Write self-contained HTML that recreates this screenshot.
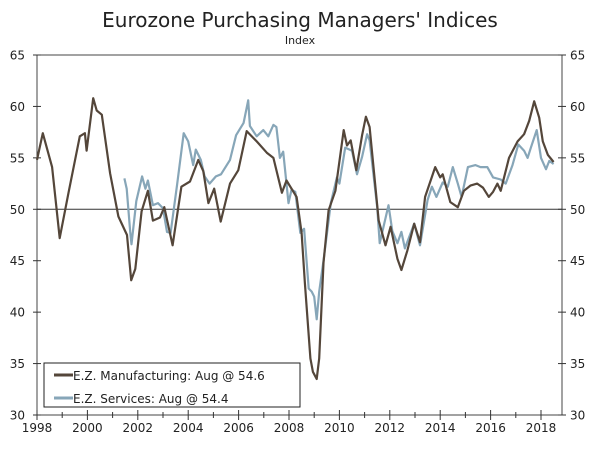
<!DOCTYPE html>
<html><head><meta charset="utf-8"><style>
body{margin:0;background:#fff;}
svg text{font-family:"DejaVu Sans","Liberation Sans",sans-serif;fill:#222;}
</style></head><body>
<svg id="c" width="600" height="449">
<text x="300" y="27" font-size="20" text-anchor="middle">Eurozone Purchasing Managers' Indices</text>
<text x="300" y="44" font-size="11" text-anchor="middle">Index</text>
<g id="axes"></g>
<g id="series"></g>
<g>
<rect x="44" y="363" width="256" height="44" fill="#fff" stroke="#222" stroke-width="1"/>
<line x1="54" y1="375" x2="73" y2="375" stroke="#54463a" stroke-width="3"/>
<text x="73" y="380" font-size="12">E.Z. Manufacturing: Aug @ 54.6</text>
<line x1="54" y1="398" x2="73" y2="398" stroke="#87a6b8" stroke-width="3"/>
<text x="73" y="403" font-size="12">E.Z. Services: Aug @ 54.4</text>
</g>
</svg>
<script>
const yTicks=[30,35,40,45,50,55,60,65];
const xTickYears=[1998,2000,2002,2004,2006,2008,2010,2012,2014,2016,2018];
const mfgDates=[1998.0,1998.23,1998.6,1998.9,1999.25,1999.7,1999.9,1999.97,2000.23,2000.37,2000.57,2000.9,2001.23,2001.57,2001.74,2001.9,2002.15,2002.4,2002.6,2002.88,2003.05,2003.38,2003.73,2004.07,2004.4,2004.6,2004.8,2005.03,2005.29,2005.66,2005.99,2006.32,2006.72,2007.12,2007.38,2007.72,2007.9,2008.3,2008.5,2008.63,2008.85,2008.95,2009.1,2009.2,2009.37,2009.57,2009.84,2010.17,2010.3,2010.45,2010.67,2010.9,2011.05,2011.2,2011.56,2011.83,2012.03,2012.3,2012.46,2012.7,2012.97,2013.2,2013.4,2013.8,2014.0,2014.1,2014.4,2014.7,2014.94,2015.2,2015.47,2015.7,2015.93,2016.1,2016.27,2016.4,2016.73,2017.07,2017.33,2017.53,2017.73,2017.93,2018.07,2018.27,2018.5];
const mfgVals=[54.8,57.4,54.1,47.2,51.6,57.1,57.4,55.7,60.8,59.6,59.2,53.5,49.3,47.5,43.1,44.2,49.8,51.8,48.9,49.2,50.2,46.5,52.2,52.7,54.8,53.7,50.6,52.0,48.8,52.5,53.8,57.6,56.6,55.5,55.0,51.6,52.8,51.2,47.7,42.8,35.5,34.2,33.5,35.5,44.8,49.9,51.8,57.7,56.2,56.7,53.8,57.2,59.0,58.0,48.9,46.5,48.3,45.2,44.1,46.0,48.6,46.8,51.2,54.1,53.1,53.4,50.7,50.2,51.8,52.3,52.5,52.1,51.2,51.7,52.5,51.8,55.0,56.6,57.3,58.6,60.5,58.9,56.6,55.3,54.6];
const svcDates=[2001.47,2001.56,2001.7,2001.75,2001.94,2002.17,2002.3,2002.4,2002.6,2002.8,2003.0,2003.16,2003.3,2003.56,2003.82,2004.0,2004.2,2004.3,2004.5,2004.65,2004.85,2005.1,2005.3,2005.66,2005.9,2006.2,2006.38,2006.45,2006.72,2006.98,2007.18,2007.38,2007.5,2007.64,2007.77,2007.98,2008.1,2008.25,2008.45,2008.6,2008.78,2008.9,2009.0,2009.1,2009.2,2009.37,2009.66,2009.9,2010.0,2010.23,2010.5,2010.7,2010.9,2011.1,2011.2,2011.5,2011.6,2011.95,2012.1,2012.3,2012.46,2012.6,2012.97,2013.2,2013.5,2013.67,2013.85,2014.1,2014.3,2014.5,2014.7,2014.85,2015.1,2015.4,2015.6,2015.87,2016.1,2016.4,2016.6,2016.87,2017.1,2017.33,2017.47,2017.6,2017.83,2018.0,2018.2,2018.33,2018.5];
const svcVals=[53.0,52.0,47.8,46.6,50.8,53.2,52.0,52.8,50.4,50.6,50.1,47.8,47.7,52.4,57.4,56.6,54.3,55.8,54.8,53.2,52.5,53.2,53.4,54.8,57.2,58.4,60.6,58.1,57.1,57.7,57.1,58.2,58.0,55.0,55.6,50.6,51.9,51.7,47.7,48.1,42.3,42.0,41.5,39.3,42.0,45.0,50.6,53.1,52.5,56.0,55.7,53.4,55.1,57.3,56.7,50.2,46.7,50.4,47.9,46.7,47.8,46.2,48.6,46.5,50.9,52.2,51.2,52.6,52.2,54.1,52.5,51.2,54.1,54.3,54.1,54.1,53.1,52.9,52.5,54.3,56.3,55.7,55.0,56.0,57.7,55.0,53.9,54.7,54.4];
const L=37,R=562,T=55,B=415;
const xs=d=>L+(d-1998)*25.2;
const ys=v=>T+(65-v)*(B-T)/35;
const NS='http://www.w3.org/2000/svg';
function mk(tag,at,parent){const e=document.createElementNS(NS,tag);for(const k in at)e.setAttribute(k,at[k]);parent.appendChild(e);return e;}
const ax=document.getElementById('axes');
let fr=mk('rect',{x:L,y:T,width:R-L,height:B-T,fill:'none',stroke:'#444','stroke-width':1},ax);


let ref=mk('line',{x1:L,x2:R,y1:ys(50),y2:ys(50),stroke:'#333','stroke-width':1},ax);


yTicks.forEach(v=>{
  mk('line',{x1:L-4,x2:L+4,y1:ys(v),y2:ys(v),stroke:'#333'},ax);
  mk('line',{x1:R-4,x2:R+4,y1:ys(v),y2:ys(v),stroke:'#333'},ax);
  let t=mk('text',{x:L-12,y:ys(v)+4.5,'font-size':12,'text-anchor':'end'},ax);t.textContent=v;
  
  
  let t2=mk('text',{x:R+8,y:ys(v)+4.5,'font-size':12},ax);t2.textContent=v;
  
  
});
for(let yr=1998;yr<=2018;yr++){
  const major=yr%2===0;
  mk('line',{x1:xs(yr),x2:xs(yr),y1:B-(major?5:3),y2:B+(major?5:3),stroke:'#333'},ax);
}
xTickYears.forEach(yr=>{
  let t=mk('text',{x:xs(yr),y:B+17,'font-size':12,'text-anchor':'middle'},ax);t.textContent=yr;
  
  
});
const sg=document.getElementById('series');
function line(dates,vals,color,name){
  const d=dates.map((x,i)=>(i?'L':'M')+xs(x).toFixed(1)+' '+ys(vals[i]).toFixed(1)).join(' ');
  const p=mk('path',{d:d,fill:'none',stroke:color,'stroke-width':2.2,'stroke-linejoin':'round'},sg);
  
  
}
line(svcDates,svcVals,'#87a6b8','services-line');
line(mfgDates,mfgVals,'#54463a','manufacturing-line');
</script>
</body></html>
